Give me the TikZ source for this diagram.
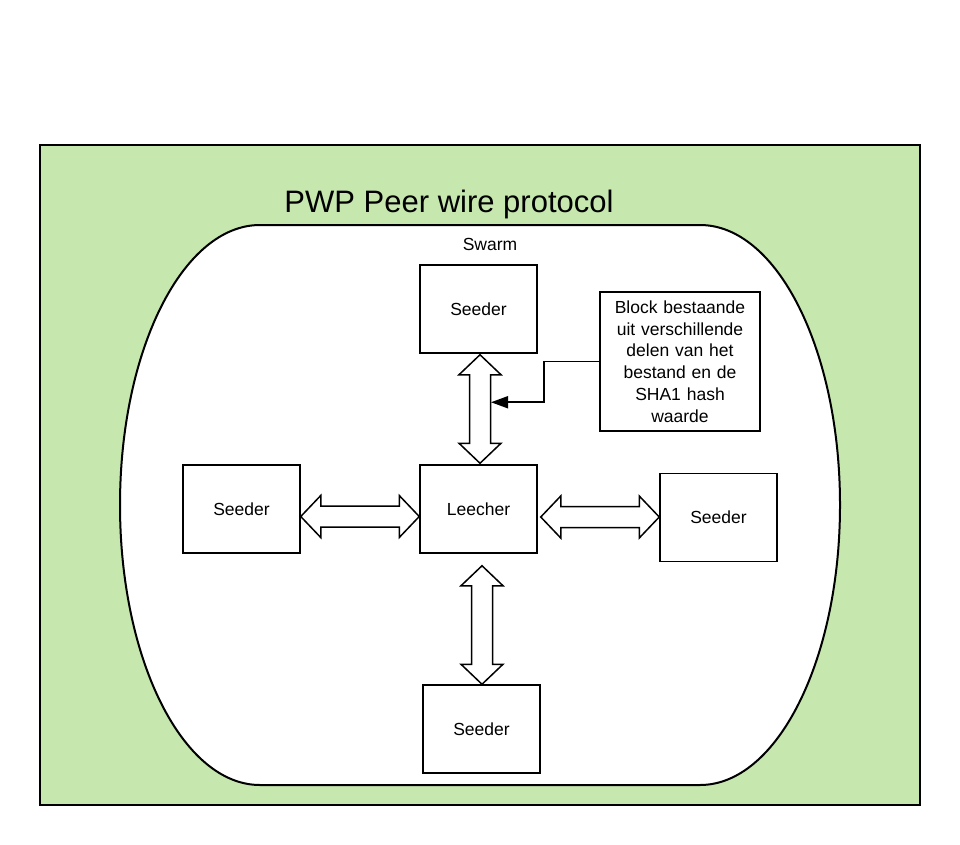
\documentclass[tikz,border=0pt]{standalone}
\usepackage{fontspec}
\setmainfont{Liberation Sans}
\usetikzlibrary{calc,arrows.meta}
\definecolor{bggreen}{RGB}{198,231,174}
\tikzset{
  box/.style={draw, line width=1.5pt, fill=white, minimum width=117pt, minimum height=88pt, inner sep=2pt, font=\fontsize{17.5pt}{21.7pt}\selectfont, align=center},
  blockarrow/.style={draw, line width=1.5pt, fill=white, line join=miter},
  conn/.style={draw, line width=1.8pt, -{Triangle[length=17pt,width=12pt]}},
}
\newcommand\vdbl[2]{\path[blockarrow] let \p1=(#1), \p2=(#2) in
  (\x1,\y1) -- ++(21pt,-20pt) -- ++(-10.5pt,0pt) -- (\x1+10.5pt,\y2+20pt) -- ++(10.5pt,0pt)
  -- (\x1,\y2) -- ++(-21pt,20pt) -- ++(10.5pt,0pt) -- (\x1-10.5pt,\y1-20pt) -- ++(-10.5pt,0pt) -- cycle;}
\newcommand\hdbl[2]{\path[blockarrow] let \p1=(#1), \p2=(#2) in
  (\x1,\y1) -- ++(20pt,21pt) -- ++(0pt,-10.5pt) -- (\x2-20pt,\y1+10.5pt) -- ++(0pt,10.5pt)
  -- (\x2,\y1) -- ++(-20pt,-21pt) -- ++(0pt,10.5pt) -- (\x1+20pt,\y1-10.5pt) -- ++(0pt,-10.5pt) -- cycle;}
\begin{document}
\begin{tikzpicture}[x=1pt,y=-1pt]
\useasboundingbox (0,0) rectangle (960,845);
\fill[white] (0,0) rectangle (960,845);
% green frame
\draw[line width=1.5pt, fill=bggreen] (40,145) rectangle (920,805);
\node[font=\fontsize{31pt}{36pt}\selectfont] (title) at (449,204) {PWP Peer wire protocol};
% swarm shape
\draw[line width=2pt, fill=white] (260,225) -- (700,225)
  arc[start angle=90, end angle=0, x radius=140pt, y radius=280pt]
  arc[start angle=0, end angle=-90, x radius=140pt, y radius=280pt]
  -- (260,785)
  arc[start angle=-90, end angle=-180, x radius=140pt, y radius=280pt]
  arc[start angle=180, end angle=90, x radius=140pt, y radius=280pt] -- cycle;
\node[font=\fontsize{17.5pt}{21pt}\selectfont] (swarm) at (490,244) {Swarm};
% boxes
\node[box] (s1) at (478.5,309) {Seeder};
\node[box] (lc) at (478.5,509) {Leecher};
\node[box] (sl) at (241.5,509) {Seeder};
\node[box] (sr) at (718.5,517.5) {Seeder};
\node[box] (sb) at (481.5,729) {Seeder};
\node[box, minimum width=160pt, minimum height=139pt, text width=150pt] (note) at (680,361.5)
  {Block bestaande\\uit verschillende\\delen van het\\bestand en de\\SHA1 hash\\waarde};
% arrow end points
\coordinate (t1) at ($(s1.south)+(1.5,1)$);
\coordinate (t2) at ($(lc.north)+(1.5,-1)$);
\coordinate (b1) at ($(lc.south)+(3.5,12)$);
\coordinate (b2) at ($(sb.north)+(0.5,0)$);
\coordinate (l1) at ($(sl.east)+(0,7.5)$);
\coordinate (l2) at ($(lc.west)+(0,7.5)$);
\coordinate (r1) at ($(lc.east)+(3,8)$);
\coordinate (r2) at ($(sr.west)+(0,-0.5)$);
\vdbl{t1}{t2}
\vdbl{b1}{b2}
\hdbl{l1}{l2}
\hdbl{r1}{r2}
% annotation connector
\coordinate (ah) at ($(lc.north)+(12.5,-62)$);
\draw[conn] (note.west) -- ++(-55,0) |- (ah);
\end{tikzpicture}
\end{document}
